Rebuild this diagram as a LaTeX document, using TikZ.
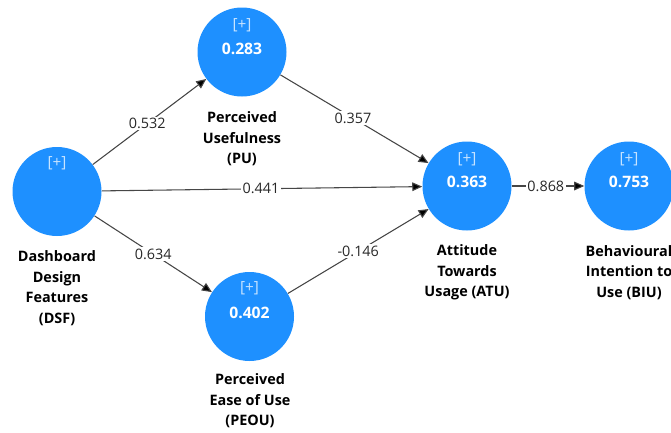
\documentclass[tikz,border=0pt]{standalone}
\usepackage{fontspec}
\setmainfont{Open Sans}
\usetikzlibrary{arrows.meta,calc}
\definecolor{lvblue}{RGB}{30,144,255}
\definecolor{plusc}{RGB}{200,228,255}
\definecolor{edgec}{RGB}{70,70,70}
\definecolor{labc}{RGB}{40,40,40}
\tikzset{
  lv/.style={circle,fill=lvblue,minimum size=66.75pt,inner sep=0pt},
  plustxt/.style={text=plusc,font=\fontsize{11.5}{13}\selectfont,inner sep=0pt},
  valtxt/.style={text=white,font=\fontsize{11.8}{13}\selectfont\bfseries,inner sep=0pt},
  lvname/.style={align=center,text=black,font=\fontsize{10.8}{15.4}\selectfont\bfseries,inner sep=0pt},
  arrowpath/.style={draw=edgec,line width=0.8pt,-{Triangle[length=7.5pt,width=6.5pt,fill=black]}},
  coef/.style={fill=white,text=labc,font=\fontsize{10.8}{12}\selectfont,inner sep=1.2pt}
}
\begin{document}
\begin{tikzpicture}[x=0.75pt,y=-0.75pt]
\useasboundingbox (0,0) rectangle (671,432);
% latent variables
\node[lv] (DSF) at (57,191.5) {};
\node[lv] (PU) at (242,52) {};
\node[lv] (PEOU) at (249.5,316.5) {};
\node[lv] (ATU) at (467,186) {};
\node[lv] (BIU) at (629,186) {};
% inner texts
\node[plustxt] (DSFp) at ($(DSF)+(0,-28)$) {[+]};
\node[plustxt] (PUp) at ($(PU)+(0,-27)$) {[+]};
\node[valtxt] (PUv) at ($(PU)+(0,-3)$) {0.283};
\node[plustxt] (PEOUp) at ($(PEOU)+(0,-28)$) {[+]};
\node[valtxt] (PEOUv) at ($(PEOU)+(0,-4)$) {0.402};
\node[plustxt] (ATUp) at ($(ATU)+(0,-27)$) {[+]};
\node[valtxt] (ATUv) at ($(ATU)+(0,-4)$) {0.363};
\node[plustxt] (BIUp) at ($(BIU)+(0,-27)$) {[+]};
\node[valtxt] (BIUv) at ($(BIU)+(0,-4)$) {0.753};
% names
\node[lvname] (DSFn) at (57,288) {Dashboard\\Design\\Features\\(DSF)};
\node[lvname] (PUn) at (242,139) {Perceived\\Usefulness\\(PU)};
\node[lvname] (PEOUn) at (250,401) {Perceived\\Ease of Use\\(PEOU)};
\node[lvname] (ATUn) at (467,272.5) {Attitude\\Towards\\Usage (ATU)};
\node[lvname] (BIUn) at (629,272.5) {Behavioural\\Intention to\\Use (BIU)};
% paths
\draw[arrowpath] (DSF) -- node[coef,pos=0.48] {0.532} (PU);
\draw[arrowpath] (DSF) -- node[coef,pos=0.50] {0.634} (PEOU);
\draw[arrowpath] (DSF) -- node[coef,pos=0.497] {0.441} (ATU);
\draw[arrowpath] (PU) -- node[coef,pos=0.49] {0.357} (ATU);
\draw[arrowpath] (PEOU) -- node[coef,pos=0.50] {-0.146} (ATU);
\draw[arrowpath] (ATU) -- node[coef,pos=0.47] {0.868} (BIU);
\end{tikzpicture}
\end{document}
